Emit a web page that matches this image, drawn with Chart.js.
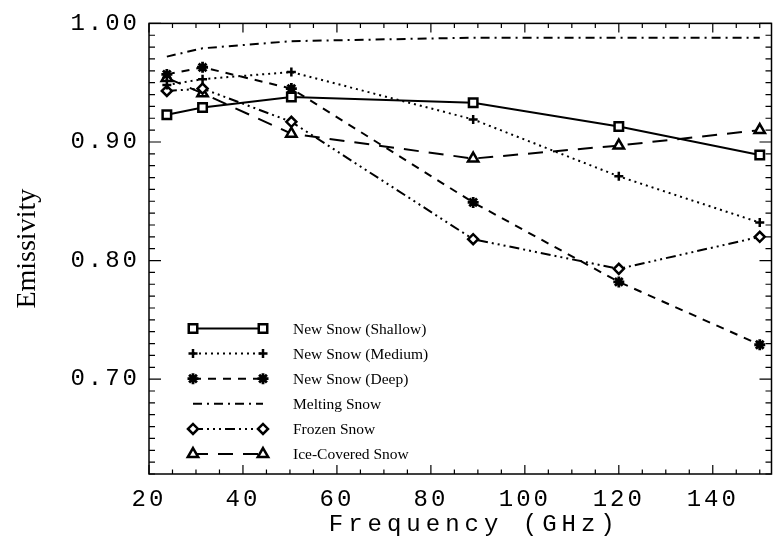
<!DOCTYPE html>
<html>
<head>
<meta charset="utf-8">
<title>Emissivity vs Frequency</title>
<script src="https://cdn.jsdelivr.net/npm/chart.js@4/dist/chart.umd.min.js"></script>
<style>
  html, body { margin: 0; padding: 0; background: #fff; }
  canvas { display: block; }
</style>
</head>
<body>
<canvas id="chart" width="780" height="537"></canvas>
<script>
// Channel frequencies (GHz)
const frequencies = [23.8, 31.4, 50.3, 89, 120, 150];

// Emissivity per surface type
const newSnowShallow = [0.923, 0.929, 0.938, 0.933, 0.913, 0.889];
const newSnowMedium  = [0.948, 0.953, 0.959, 0.919, 0.871, 0.832];
const newSnowDeep    = [0.957, 0.963, 0.945, 0.849, 0.782, 0.729];
const meltingSnow    = [0.972, 0.979, 0.985, 0.988, 0.988, 0.988];
const frozenSnow     = [0.943, 0.945, 0.917, 0.818, 0.793, 0.820];
const iceCoveredSnow = [0.954, 0.941, 0.907, 0.886, 0.897, 0.910];

// Axis labels
const xTickValues = [20, 40, 60, 80, 100, 120, 140];
const yTickValues = [0.70, 0.80, 0.90, 1.00];

const seriesNames = ['New Snow (Shallow)', 'New Snow (Medium)', 'New Snow (Deep)',
                     'Melting Snow', 'Frozen Snow', 'Ice-Covered Snow'];

const AXIS_FONT = '"Liberation Mono", "DejaVu Sans Mono", monospace';
const SERIF_FONT = '"Liberation Serif", "DejaVu Serif", serif';
const TICK_SPACING = '3px';
const TITLE_SPACING = '5px';

function series(label, values, style) {
  return Object.assign({
    label,
    data: frequencies.map((f, i) => ({ x: f, y: values[i] })),
    borderColor: '#000',
    backgroundColor: '#000',
    borderWidth: 2,
    tension: 0,
    fill: false,
    pointBorderColor: '#000',
    pointBackgroundColor: '#fff',
    pointBorderWidth: 2.5,
    pointHoverRadius: 0
  }, style);
}

const datasets = [
  series(seriesNames[0], newSnowShallow, { borderDash: [], pointStyle: 'rect', pointRadius: 6 }),
  series(seriesNames[1], newSnowMedium, { borderDash: [2, 4], pointStyle: 'cross', pointRadius: 4.5 }),
  series(seriesNames[2], newSnowDeep, { borderDash: [8, 7], pointStyle: 'star', pointRadius: 5.5, pointBorderWidth: 2.8, pointBackgroundColor: '#000' }),
  series(seriesNames[3], meltingSnow, { borderDash: [9, 5, 2, 5], pointRadius: 0 }),
  series(seriesNames[4], frozenSnow, { borderDash: [10, 4, 2, 4, 2, 4, 2, 4], pointStyle: 'rectRot', pointRadius: 5 }),
  series(seriesNames[5], iceCoveredSnow, { borderDash: [15, 10], pointStyle: 'triangle', pointRadius: 6 })
];

// Draws a marker the same way the library draws data points
function drawMarker(ctx, style, radius, borderWidth, fillColor, x, y) {
  ctx.save();
  ctx.setLineDash([]);
  ctx.lineWidth = borderWidth;
  ctx.strokeStyle = '#000';
  ctx.fillStyle = fillColor;
  if (Chart.helpers && Chart.helpers.drawPoint) {
    Chart.helpers.drawPoint(ctx, { pointStyle: style, radius, borderWidth, rotation: 0 }, x, y);
  } else {
    ctx.beginPath();
    ctx.arc(x, y, radius, 0, Math.PI * 2);
    ctx.fill();
    ctx.stroke();
  }
  ctx.restore();
}

// Box frame with inward major/minor ticks on all four sides
const frameTicks = {
  id: 'frameTicks',
  beforeDatasetsDraw(chart) {
    const { ctx, chartArea: { left, right, top, bottom }, scales: { x, y } } = chart;
    ctx.save();
    ctx.letterSpacing = '0px';
    ctx.strokeStyle = '#000';
    ctx.lineWidth = 1.5;
    ctx.setLineDash([]);
    ctx.strokeRect(left, top, right - left, bottom - top);
    ctx.lineWidth = 1.2;
    ctx.beginPath();
    for (let i = Math.ceil(y.min * 100); i <= Math.round(y.max * 100); i++) {
      const py = y.getPixelForValue(i / 100);
      const len = i % 10 === 0 ? 12 : 6;
      ctx.moveTo(left, py); ctx.lineTo(left + len, py);
      ctx.moveTo(right, py); ctx.lineTo(right - len, py);
    }
    for (let v = x.min; v <= x.max; v += 5) {
      const px = x.getPixelForValue(v);
      const len = v % 20 === 0 ? 9 : 4.5;
      ctx.moveTo(px, bottom); ctx.lineTo(px, bottom - len);
      ctx.moveTo(px, top); ctx.lineTo(px, top + len);
    }
    ctx.stroke();
    ctx.restore();
  }
};

// Spaced axis text; the rotated y title stays unspaced
const axisText = {
  id: 'axisText',
  afterLayout(chart) {
    const ys = chart.scales.y;
    if (!ys._plainTitle) {
      const orig = ys.drawTitle.bind(ys);
      ys.drawTitle = function () {
        const c = this.ctx; c.save(); c.letterSpacing = '0px'; orig(); c.restore();
      };
      ys._plainTitle = true;
    }
    const xs = chart.scales.x;
    if (!xs._wideTitle) {
      const origX = xs.drawTitle.bind(xs);
      xs.drawTitle = function () {
        const c = this.ctx; c.save(); c.letterSpacing = TITLE_SPACING; c.translate(14, 0); origX(); c.restore();
      };
      xs._wideTitle = true;
    }
  },
  beforeDraw(chart) {
    chart.ctx.letterSpacing = TICK_SPACING;
  }
};

// Legend with line samples and end markers inside the plot
const lineLegend = {
  id: 'lineLegend',
  afterDraw(chart) {
    const { ctx, chartArea: { left, bottom } } = chart;
    ctx.save();
    ctx.letterSpacing = '0px';
    chart.data.datasets.forEach((ds, i) => {
      const yy = bottom - 145.5 + i * 25.1;
      const x0 = left + 44, x1 = left + 114;
      ctx.setLineDash(ds.borderDash || []);
      ctx.lineWidth = ds.borderWidth;
      ctx.strokeStyle = '#000';
      ctx.beginPath();
      ctx.moveTo(x0, yy); ctx.lineTo(x1, yy);
      ctx.stroke();
      if (ds.pointRadius > 0) {
        drawMarker(ctx, ds.pointStyle, ds.pointRadius, ds.pointBorderWidth, ds.pointBackgroundColor, x0, yy);
        drawMarker(ctx, ds.pointStyle, ds.pointRadius, ds.pointBorderWidth, ds.pointBackgroundColor, x1, yy);
      }
      ctx.setLineDash([]);
      ctx.fillStyle = '#000';
      ctx.font = '15.5px ' + SERIF_FONT;
      ctx.textAlign = 'left';
      ctx.textBaseline = 'middle';
      ctx.fillText(ds.label, left + 144, yy + 1);
    });
    ctx.restore();
  }
};

new Chart(document.getElementById('chart'), {
  type: 'line',
  data: { datasets },
  plugins: [axisText, frameTicks, lineLegend],
  options: {
    responsive: false,
    animation: false,
    devicePixelRatio: 1,
    layout: { padding: { top: 13, right: 1, left: 0, bottom: 0 } },
    plugins: { legend: { display: false }, tooltip: { enabled: false } },
    scales: {
      x: {
        type: 'linear',
        min: 20,
        max: 152.5,
        afterFit(s) { s.height = 63; },
        afterBuildTicks(s) { s.ticks = xTickValues.map(v => ({ value: v })); },
        grid: { display: false, drawTicks: false },
        border: { display: false },
        ticks: {
          autoSkip: false,
          maxRotation: 0,
          padding: 11,
          color: '#000',
          font: { family: AXIS_FONT, size: 24 },
          callback: v => String(v)
        },
        title: {
          display: true,
          text: 'Frequency (GHz)',
          color: '#000',
          font: { family: AXIS_FONT, size: 24, lineHeight: 1 },
          padding: { top: 0, bottom: 0 }
        }
      },
      y: {
        type: 'linear',
        min: 0.62,
        max: 1.00,
        afterFit(s) { s.width = 149; },
        afterBuildTicks(s) { s.ticks = yTickValues.map(v => ({ value: v })); },
        grid: { display: false, drawTicks: false },
        border: { display: false },
        ticks: {
          padding: 9,
          color: '#000',
          font: { family: AXIS_FONT, size: 24 },
          callback: v => Number(v).toFixed(2)
        },
        title: {
          display: true,
          text: 'Emissivity',
          color: '#000',
          font: { family: SERIF_FONT, size: 28, lineHeight: 1.2 },
          padding: { top: 11, bottom: 0 }
        }
      }
    }
  }
});
</script>
</body>
</html>
